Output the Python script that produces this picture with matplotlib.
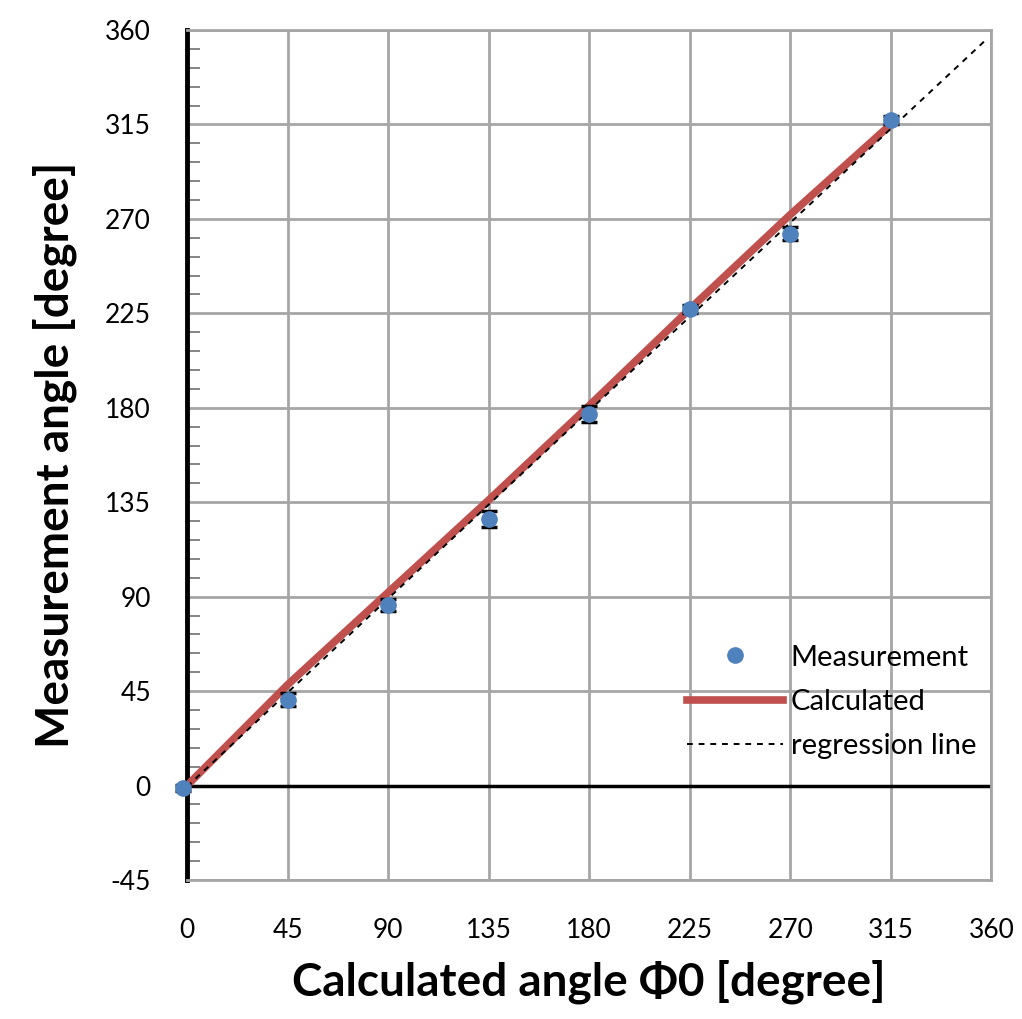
import numpy as np
import matplotlib.pyplot as plt
from matplotlib.lines import Line2D
from matplotlib.ticker import MultipleLocator

# measured angles with spread
meas_x = [-2, 45, 90, 135, 180, 225, 270, 315]
meas_y = [-1, 41, 86, 127, 177, 227, 263, 317]
meas_err = [1.5, 3, 3, 4, 4, 2, 3, 2]

# calculated curve
calc_x = [0, 45, 90, 135, 180, 225, 270, 315]
calc_y = [0, 48, 92, 136, 181, 227, 272, 315]

# regression line y = a*x + b
reg_slope = 0.995
reg_intercept = -0.5
reg_span = [0, 358]

ticks_x = [0, 45, 90, 135, 180, 225, 270, 315, 360]
ticks_y = [-45, 0, 45, 90, 135, 180, 225, 270, 315, 360]

plt.rcParams["font.family"] = ["Lato", "DejaVu Sans"]
plt.rcParams["axes.unicode_minus"] = False

fig = plt.figure(figsize=(10.22, 10.19), dpi=100)
ax = fig.add_axes([0.183, 0.1364, 0.787, 0.8342])

ax.set_xlim(0, 360)
ax.set_ylim(-45, 360)
ax.set_xticks(ticks_x)
ax.set_yticks(ticks_y)
ax.yaxis.set_minor_locator(MultipleLocator(9))
ax.grid(True, which="major", color="#a6a6a6", lw=2)
ax.set_axisbelow(True)

for side in ["top", "right", "bottom"]:
    ax.spines[side].set_color("#a6a6a6")
    ax.spines[side].set_linewidth(2)
ax.spines["left"].set_color("black")
ax.spines["left"].set_linewidth(3.5)
ax.axhline(0, color="black", lw=2.5, zorder=2)

ax.tick_params(axis="y", which="both", direction="in", length=9, width=1.2,
               color="#707070", labelsize=19, pad=26)
ax.tick_params(axis="y", which="major", length=0)
ax.tick_params(axis="x", length=0, labelsize=19, pad=27)

xs = np.array(reg_span, dtype=float)
ax.plot(xs, reg_slope * xs + reg_intercept, ls=(0, (3, 3)), color="black",
        lw=1.4, zorder=4)
ax.plot(calc_x, calc_y, color="#c0504d", lw=5.5, zorder=3)
ax.errorbar(meas_x, meas_y, yerr=meas_err, fmt="o", color="#4f81bd", ms=11,
            ecolor="black", elinewidth=1.5, capsize=6, capthick=2.5,
            zorder=5, clip_on=False)

handles = [
    Line2D([], [], ls="none", marker="o", color="#4f81bd", ms=11),
    Line2D([], [], color="#c0504d", lw=5.5),
    Line2D([], [], color="black", ls=(0, (3, 3)), lw=1.4),
]
labels = ["Measurement", "Calculated", "regression line"]
ax.legend(handles, labels, loc="lower right", bbox_to_anchor=(1.003, 0.122),
          frameon=False, fontsize=21, handlelength=3.3, labelspacing=0.62,
          handletextpad=0.25, borderaxespad=0.2)

ax.set_xlabel("Calculated angle \u03a60 [degree]", fontsize=33,
              fontweight="bold", labelpad=12)
ax.set_ylabel("Measurement angle [degree]", fontsize=33,
              fontweight="bold", labelpad=20)

fig.savefig("out.png", dpi=100)
